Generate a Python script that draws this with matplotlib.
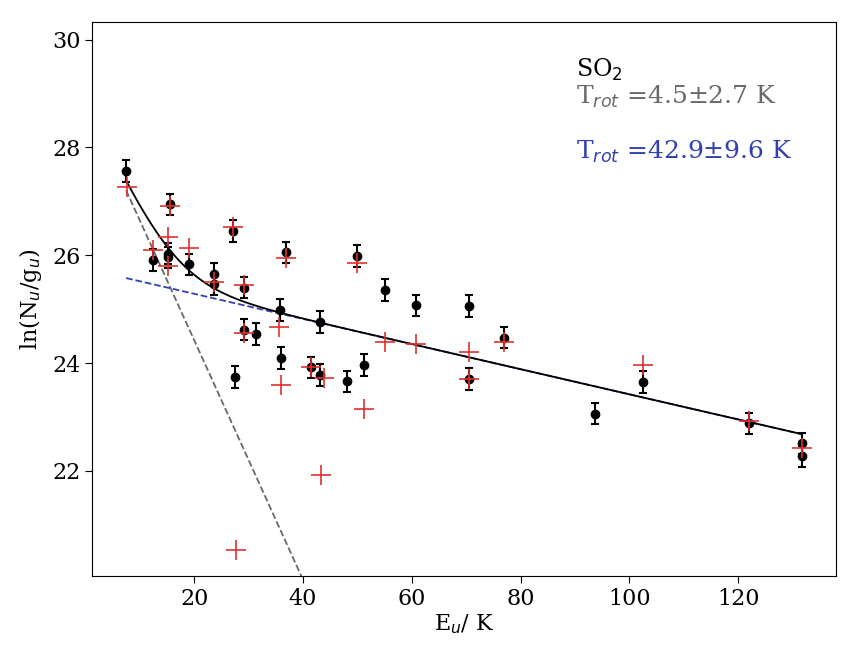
import numpy as np
import matplotlib
matplotlib.use('Agg')
import matplotlib.pyplot as plt

# Rotation diagram of SO2: observed column densities (black, with errors)
# and model values (red crosses), plus a two-temperature fit

E_obs = [7.5, 12.5, 15.2, 15.2, 15.5, 19.0, 23.7, 23.7, 27.2, 27.5, 29.2,
         29.2, 31.4, 35.7, 36.0, 36.9, 41.5, 43.2, 43.2, 48.0, 50.0, 51.3,
         55.0, 60.7, 70.6, 70.6, 77.0, 93.7, 102.5, 122.0, 131.7, 131.7]
lnNg_obs = [27.56, 25.91, 26.03, 25.96, 26.94, 25.83, 25.66, 25.46, 26.45,
            23.74, 25.40, 24.62, 24.54, 24.98, 24.09, 26.05, 23.92, 24.76,
            23.78, 23.66, 25.98, 23.96, 25.35, 25.07, 25.06, 23.70, 24.47,
            23.06, 23.65, 22.88, 22.51, 22.27]
err_obs = [0.2]*len(E_obs)

E_mod = [7.6, 12.5, 15.2, 15.2, 15.5, 19.1, 23.6, 27.2, 27.6, 29.2, 29.2,
         35.6, 35.9, 36.8, 41.5, 43.4, 43.9, 49.9, 51.3, 55.0, 60.7, 70.6,
         70.6, 77.0, 102.5, 122.0, 131.7]
lnNg_mod = [27.27, 26.09, 26.34, 25.80, 26.92, 26.14, 25.51, 26.53, 20.54,
            25.45, 24.56, 24.67, 23.60, 25.95, 23.93, 21.92, 23.73, 25.86,
            23.14, 24.39, 24.35, 24.21, 23.70, 24.39, 23.96, 22.92, 22.43]

# two-component fit: ln(N/g) = a - E/T
T_cold, a_cold = 4.5, 28.87
T_warm, a_warm = 42.9, 25.75

E_fit = np.linspace(min(E_obs), max(E_obs), 300)
cold = a_cold - E_fit/T_cold
warm = a_warm - E_fit/T_warm
total = np.log(np.exp(cold) + np.exp(warm))

plt.rcParams['font.family'] = 'serif'

fig = plt.figure(figsize=(8.59, 6.6), dpi=100)
ax = fig.add_axes([0.1075, 0.1273, 0.8654, 0.8398])

ax.plot(E_fit, cold, '--', color='dimgray', lw=1.3, zorder=1)
ax.plot(E_fit, warm, '--', color='#3040b0', lw=1.3, zorder=1)
ax.plot(E_fit, total, '-', color='k', lw=1.3, zorder=2)
ax.errorbar(E_obs, lnNg_obs, yerr=err_obs, fmt='o', color='k', ms=6,
            elinewidth=1.5, capsize=3, capthick=1.5, zorder=3)
ax.plot(E_mod, lnNg_mod, '+', color='#e03030', ms=15, mew=1.2, zorder=4)

ax.set_ylim(20.05, 30.33)
ax.set_yticks([22, 24, 26, 28, 30])
ax.set_xticks([20, 40, 60, 80, 100, 120])
ax.tick_params(labelsize=16, length=5)
ax.set_xlabel('E$_u$/ K', fontsize=16, labelpad=2)
ax.set_ylabel('ln(N$_u$/g$_u$)', fontsize=16, labelpad=6)

ax.text(90.2, 29.43, 'SO$_2$', fontsize=17, color='k', va='center')
ax.text(90.2, 28.93, 'T$_{rot}$ =4.5$\\pm$2.7 K', fontsize=18,
        color='dimgray', va='center')
ax.text(90.2, 27.91, 'T$_{rot}$ =42.9$\\pm$9.6 K', fontsize=18,
        color='#3040b0', va='center')

plt.savefig('out.png', dpi=100)
